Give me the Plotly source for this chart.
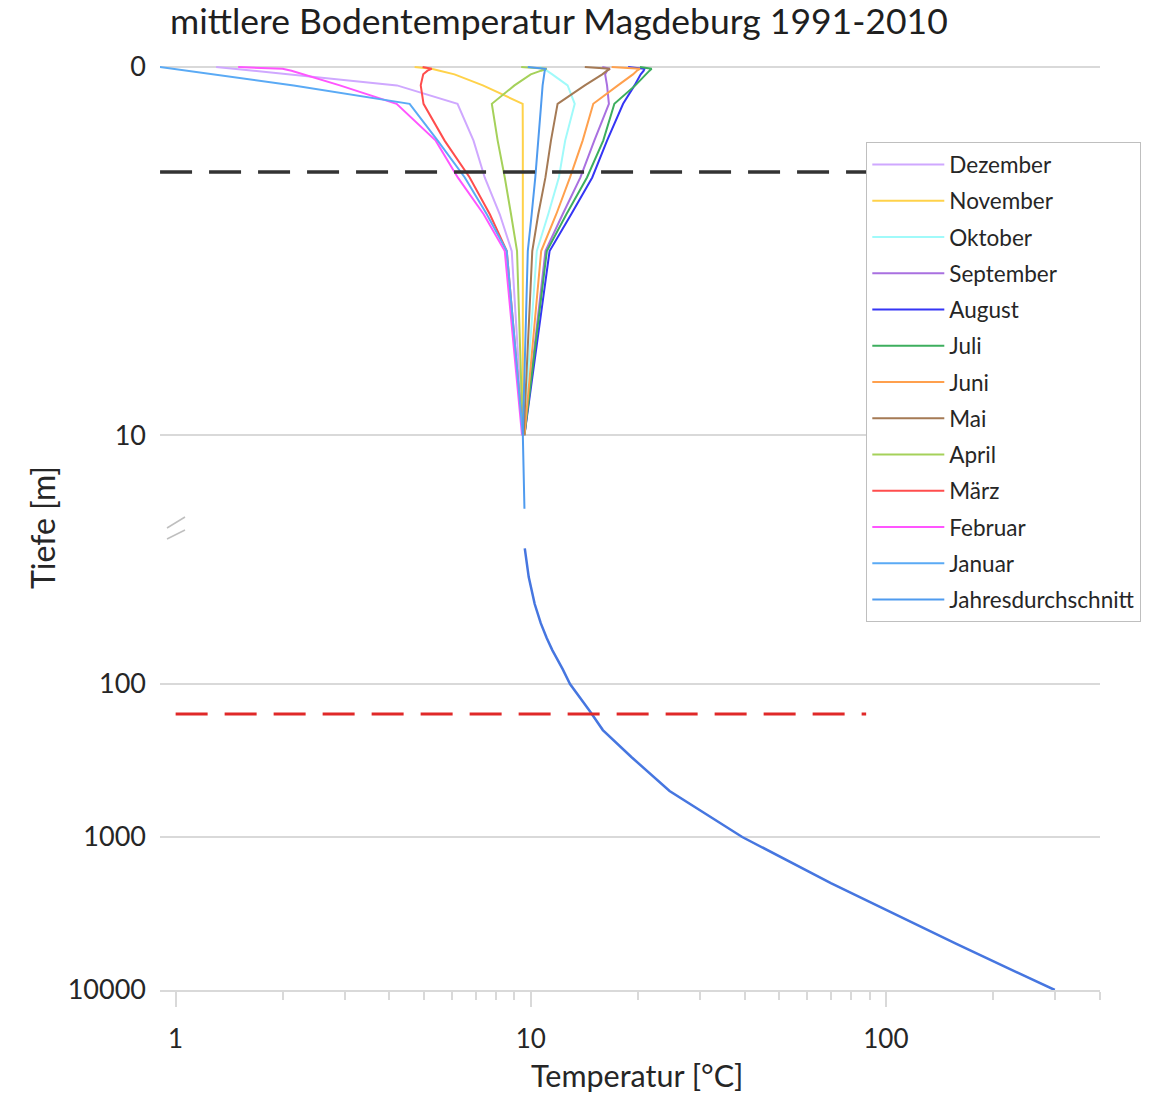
import plotly.graph_objects as go

# ---------------- data ----------------
depth_m = [0, 0.05, 0.1, 0.2, 0.5, 1, 2, 3, 4, 5, 10]

dezember = [1.30, 1.47, 1.65, 2.10, 4.20, 6.22, 6.90, 7.42, 8.18, 8.84, 9.50]
november = [4.71, 5.26, 5.54, 6.10, 7.33, 9.49, 9.50, 9.50, 9.50, 9.50, 9.50]
oktober = [10.6, 10.9, 11.1, 11.5, 12.7, 13.3, 12.5, 12.0, 11.2, 10.4, 9.55]
september = [15.9, 16.7, 16.4, 16.2, 16.4, 16.6, 15.1, 13.8, 12.3, 11.0, 9.6]
august = [18.8, 20.9, 20.8, 20.4, 19.6, 18.2, 16.4, 14.9, 13.0, 11.3, 9.6]
juli = [20.3, 21.9, 21.6, 21.1, 19.7, 17.2, 16.0, 14.4, 12.6, 11.1, 9.6]
juni = [16.9, 20.3, 19.9, 19.4, 17.6, 15.0, 14.0, 12.9, 11.8, 10.7, 9.6]
mai = [14.2, 16.7, 16.4, 15.9, 14.2, 11.9, 11.4, 11.0, 10.5, 10.1, 9.55]
april = [9.4, 11.1, 10.7, 10.0, 9.0, 7.77, 8.07, 8.45, 8.8, 9.15, 9.5]
maerz = [4.96, 5.26, 5.12, 4.98, 4.90, 4.99, 5.72, 6.73, 7.67, 8.56, 9.5]
februar = [1.50, 2.00, 2.12, 2.29, 2.90, 4.19, 5.40, 6.23, 7.37, 8.45, 9.45]
januar = [0.90, 0.98, 1.07, 1.27, 2.15, 4.56, 5.47, 6.52, 7.52, 8.56, 9.5]

annual_depth = [0, 0.05, 0.1, 0.2, 0.5, 1, 2, 3, 4, 5, 10, 11, 12]
annual_temp = [9.81, 11.0, 10.95, 10.9, 10.8, 10.7, 10.5, 10.3, 10.06, 9.81, 9.5, 9.55, 9.6]

deep_depth = [13, 20, 30, 40, 50, 60, 80, 100, 150, 200, 300, 500, 1000, 2000, 5000, 10000]
deep_temp = [9.62, 9.87, 10.26, 10.67, 11.09, 11.5, 12.3, 12.9, 14.66, 15.96, 19.2, 24.6, 39.4, 70, 158, 299]

ref_line_x = [0.904, 88]
black_line_depth = 2.85
red_line_depth = 157

month_names = ["Dezember", "November", "Oktober", "September", "August", "Juli",
               "Juni", "Mai", "April", "März", "Februar", "Januar"]
month_values = [dezember, november, oktober, september, august, juli,
                juni, mai, april, maerz, februar, januar]
month_colors = ["#CFA8FF", "#FFD24A", "#A0FAFA", "#A970E0", "#3535F5", "#3DAE5E",
                "#FFA04D", "#A57A55", "#A5D15A", "#FF4D4D", "#FF55FF", "#5AAAF5"]

x_tick_labels = ["1", "10", "100"]
upper_ticks = [0, 10]
lower_ticks = [100, 1000, 10000]

# ---------------- figure ----------------
fig = go.Figure()
for name, vals, col in zip(month_names, month_values, month_colors):
    fig.add_trace(go.Scatter(x=vals, y=depth_m, mode="lines", name=name,
                             legendgroup=name,
                             line=dict(color=col, width=2), xaxis="x", yaxis="y"))

fig.add_trace(go.Scatter(x=annual_temp, y=annual_depth, mode="lines",
                         name="Jahresdurchschnitt", legendgroup="Jahresdurchschnitt",
                         line=dict(color="#4F9BEF", width=2), xaxis="x", yaxis="y"))

fig.add_trace(go.Scatter(x=deep_temp, y=deep_depth, mode="lines", showlegend=False,
                         line=dict(color="#4676E0", width=2.5), xaxis="x", yaxis="y2"))

fig.add_trace(go.Scatter(x=ref_line_x, y=[black_line_depth] * 2, mode="lines",
                         showlegend=False,
                         line=dict(color="#333333", width=3.5, dash="32px,17px"),
                         xaxis="x", yaxis="y"))
fig.add_trace(go.Scatter(x=[1, ref_line_x[1]], y=[red_line_depth] * 2, mode="lines",
                         showlegend=False,
                         line=dict(color="#E02828", width=3, dash="32px,17px"),
                         xaxis="x", yaxis="y2"))

grid = "#D9D9D9"
txt = "#262626"

fig.update_layout(
    width=1158, height=1096,
    margin=dict(l=160, r=58, t=60, b=106),
    paper_bgcolor="white", plot_bgcolor="white",
    font=dict(family="Lato, sans-serif", color=txt),
    title=dict(text="mittlere Bodentemperatur Magdeburg 1991-2010",
               x=170 / 1158, xanchor="left", xref="container",
               y=1 - 22 / 1096, yanchor="middle", yref="container",
               font=dict(size=35.5, color="#1f1f1f")),
    xaxis=dict(type="log", range=[-0.044, 2.603], anchor="y2",
               showgrid=False, zeroline=False,
               showline=True, linecolor=grid, linewidth=1.5,
               ticks="outside", ticklen=15, tickcolor=grid, tickwidth=1.5,
               tickmode="array", tickvals=[1, 10, 100], ticktext=x_tick_labels,
               ticklabelstandoff=10,
               tickfont=dict(size=26, color=txt),
               minor=dict(dtick="D1", ticks="outside", ticklen=8,
                          tickcolor=grid, tickwidth=1.5, showgrid=False)),
    yaxis=dict(domain=[0.5032, 1], range=[12.36, -0.19],
               tickmode="array", tickvals=upper_ticks,
               ticktext=[str(v) for v in upper_ticks],
               showgrid=True, gridcolor=grid, gridwidth=1.5,
               zeroline=False, showline=False, ticks="",
               ticklabelstandoff=13, tickfont=dict(size=27, color=txt)),
    yaxis2=dict(domain=[0, 0.4946], type="log", range=[4.0, 0.9935],
                tickmode="array", tickvals=lower_ticks,
                ticktext=[str(v) for v in lower_ticks],
                showgrid=True, gridcolor=grid, gridwidth=1.5,
                zeroline=False, showline=False, ticks="",
                ticklabelstandoff=13, tickfont=dict(size=27, color=txt)),
    legend=dict(x=(866 - 160) / 940, y=(990 - 142) / 930, xanchor="left", yanchor="top",
                bordercolor="#BFBFBF", borderwidth=1.3, bgcolor="white",
                font=dict(size=22.5, color=txt), tracegroupgap=4, itemwidth=72),
    showlegend=True,
    annotations=[
        dict(text="Tiefe [m]", xref="paper", yref="paper",
             x=(42 - 160) / 940, y=(990 - 528) / 930, textangle=-90,
             showarrow=False, font=dict(size=32, color=txt),
             xanchor="center", yanchor="middle"),
        dict(text="Temperatur [°C]", xref="paper", yref="paper",
             x=(637 - 160) / 940, y=(990 - 1075) / 930,
             showarrow=False, font=dict(size=30.5, color=txt),
             xanchor="center", yanchor="middle"),
    ],
    shapes=[
        dict(type="line", xref="x", yref="paper", x0=0, x1=0,
             y0=(990 - 1005) / 930, y1=(990 - 67) / 930,
             line=dict(color=grid, width=1.5), layer="below"),
        dict(type="line", xref="paper", yref="paper",
             x0=(167 - 160) / 940, x1=(185 - 160) / 940,
             y0=(990 - 528) / 930, y1=(990 - 517) / 930,
             line=dict(color="#BFBFBF", width=1.5)),
        dict(type="line", xref="paper", yref="paper",
             x0=(167 - 160) / 940, x1=(185 - 160) / 940,
             y0=(990 - 539) / 930, y1=(990 - 530) / 930,
             line=dict(color="#BFBFBF", width=1.5)),
    ],
)

fig.write_html("out.html")
